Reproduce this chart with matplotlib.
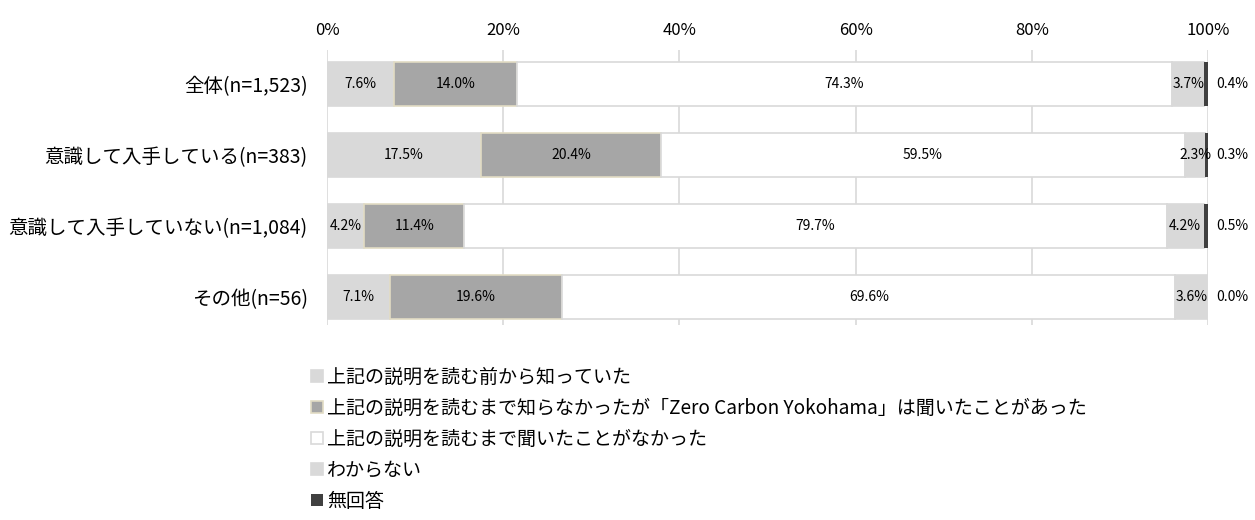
import numpy as np
import matplotlib.pyplot as plt

plt.rcParams['font.family'] = ['Noto Sans CJK JP', 'DejaVu Sans']

groups = ['全体(n=1,523)', '意識して入手している(n=383)',
          '意識して入手していない(n=1,084)', 'その他(n=56)']
series = ['上記の説明を読む前から知っていた',
          '上記の説明を読むまで知らなかったが「Zero Carbon Yokohama」は聞いたことがあった',
          '上記の説明を読むまで聞いたことがなかった',
          'わからない',
          '無回答']
knew_before = [7.6, 17.5, 4.2, 7.1]
heard_name = [14.0, 20.4, 11.4, 19.6]
never_heard = [74.3, 59.5, 79.7, 69.6]
dont_know = [3.7, 2.3, 4.2, 3.6]
no_answer = [0.4, 0.3, 0.5, 0.0]

values = [knew_before, heard_name, never_heard, dont_know, no_answer]
faces = ['#d9d9d9', '#a6a6a6', '#ffffff', '#d9d9d9', '#404040']
edges = ['#d9d9d9', '#e2dcc4', '#d9d9d9', '#d9d9d9', 'none']

fig = plt.figure(figsize=(12.55, 5.2), dpi=100)
ax = fig.add_axes([327 / 1255, 1 - 325 / 520, 881 / 1255, 275 / 520])

y = np.arange(len(groups))
left = np.zeros(len(groups))
for i, (vals, fc, ec) in enumerate(zip(values, faces, edges)):
    vals = np.array(vals)
    ax.barh(y, vals, left=left, height=0.62, color=fc, edgecolor=ec,
            linewidth=1.2 if ec != 'none' else 0, label=series[i], zorder=3)
    for j, v in enumerate(vals):
        if i == 4:
            # 無回答 is too thin, so its label sits outside the bar
            ax.text(102.8, y[j], f'{v:.1f}%', ha='center', va='center', fontsize=10)
        else:
            ax.text(left[j] + v / 2, y[j], f'{v:.1f}%', ha='center', va='center',
                    fontsize=10, zorder=4)
    left += vals

ax.set_xlim(0, 100)
ax.set_ylim(3.4, -0.48)
ax.set_xticks(np.arange(0, 101, 20))
ax.set_xticklabels([f'{t}%' for t in range(0, 101, 20)], fontsize=12)
ax.xaxis.tick_top()
ax.tick_params(axis='x', length=0, pad=8)
ax.set_yticks(y)
ax.set_yticklabels(groups, fontsize=14)
ax.tick_params(axis='y', length=0, pad=14)
ax.grid(axis='x', color='#d9d9d9', linewidth=1.2, zorder=0)
for s in ax.spines.values():
    s.set_visible(False)

handles, labels = ax.get_legend_handles_labels()
fig.legend(handles, labels, loc='upper left', bbox_to_anchor=(303 / 1255, 1 - 359 / 520),
           frameon=False, fontsize=13.7, handlelength=0.65, handleheight=0.55,
           handletextpad=0.2, labelspacing=0.53, borderaxespad=0)

fig.savefig('out.png', dpi=100)
